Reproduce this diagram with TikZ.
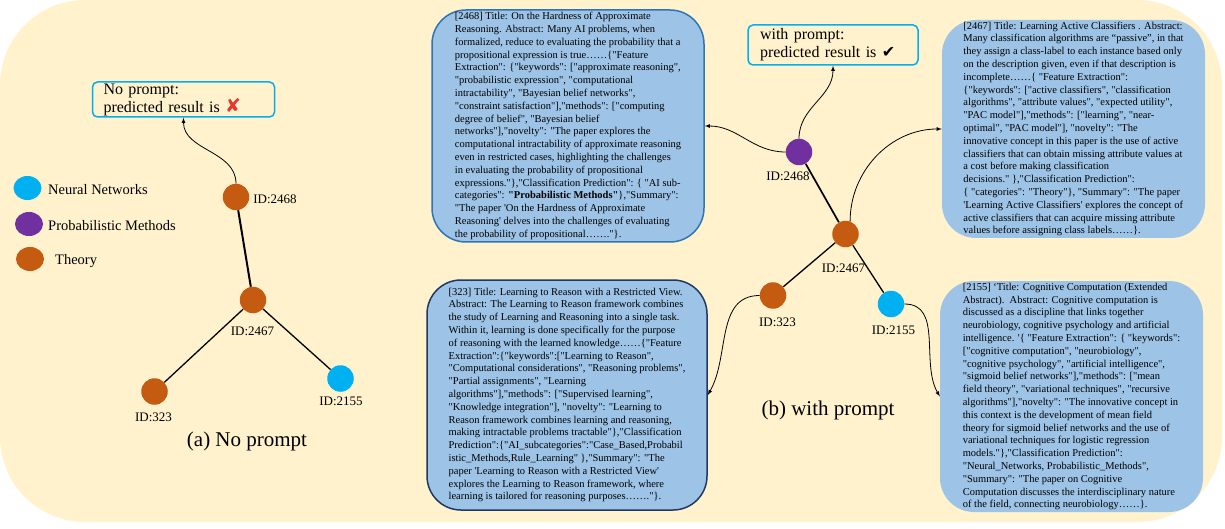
\documentclass[tikz,border=0pt]{standalone}
\usepackage{fontspec}
\setmainfont{Liberation Serif}[Ligatures=TeXOff]
\newfontfamily\symbolfont{DejaVu Sans}
\usetikzlibrary{shapes.geometric}
\tikzset{>=latex}
\definecolor{panelbg}{HTML}{FFF2CC}
\definecolor{boxfill}{HTML}{9DC3E6}
\definecolor{boxblue}{HTML}{2E75B6}
\definecolor{boxnavy}{HTML}{203864}
\definecolor{promptcyan}{HTML}{00B0F0}
\definecolor{theoryorange}{HTML}{C55A11}
\definecolor{neuralcyan}{HTML}{00B0F0}
\definecolor{probpurple}{HTML}{7030A0}
\definecolor{crossred}{HTML}{E8382B}
\tikzset{
  paper/.style={circle, minimum size=26.5pt, inner sep=0pt},
  legenddot/.style={ellipse, minimum width=28pt, minimum height=24pt, inner sep=0pt},
  idlabel/.style={inner sep=0pt, font=\fontsize{13}{15}\selectfont},
  legendtext/.style={anchor=west, inner sep=0pt, font=\fontsize{14.5}{17}\selectfont},
  abstractbox/.style={fill=boxfill, rounded corners=34pt, align=left, inner sep=0pt, font=\fontsize{10.5}{12.8}\selectfont},
  promptbox/.style={draw=promptcyan, line width=1.5pt, rounded corners=5pt, align=left, inner ysep=0pt, font=\fontsize{16}{18}\selectfont},
  caption/.style={inner sep=0pt, font=\fontsize{21}{24}\selectfont},
  link/.style={->, line width=0.8pt},
}
\begin{document}
\begin{tikzpicture}[x=1pt, y=-1pt]
\useasboundingbox (0,0) rectangle (1225,529);
\fill[panelbg, rounded corners=85pt] (0,0) rectangle (1222,522);

\node[legenddot, fill=neuralcyan] (lgneural) at (27.5,188) {};
\node[legenddot, fill=probpurple] (lgprob) at (29,224) {};
\node[legenddot, fill=theoryorange] (lgtheory) at (30,259) {};
\node[legendtext] (lgneuraltext) at (48,190) {Neural Networks};
\node[legendtext] (lgprobtext) at (48,226) {Probabilistic Methods};
\node[legendtext] (lgtheorytext) at (55,261) {Theory};

\node[promptbox, text width=160pt, inner xsep=11pt, minimum height=35pt] (nobox) at (183.5,99.5) {No prompt:\\predicted result is {\symbolfont\fontsize{19}{18}\selectfont\textcolor{crossred}{✘}}};
\node[paper, fill=theoryorange] (l2468) at (236,197) {};
\node[paper, fill=theoryorange] (l2467) at (253,300) {};
\node[paper, fill=theoryorange] (l323) at (154.5,391.5) {};
\node[paper, fill=neuralcyan] (l2155) at (340.5,378.5) {};
\node[idlabel] (tl2468) at (275,199) {ID:2468};
\node[idlabel] (tl2467) at (252.5,331) {ID:2467};
\node[idlabel] (tl323) at (153.5,417) {ID:323};
\node[idlabel] (tl2155) at (341,401) {ID:2155};
\draw[line width=2pt] (l2468) -- (l2467);
\draw[line width=1.3pt] (l2467) -- (l323);
\draw[line width=1.3pt] (l2467) -- (l2155);
\draw[link] (l2468.north) to[out=90, in=-90] (nobox.south);
\node[caption] (capa) at (247,441) {(a) No prompt};

\node[abstractbox, draw=boxblue, line width=1.5pt, minimum width=272pt, minimum height=232pt] (b2468) at (568,126) {[2468] Title: On the Hardness of Approximate\\
Reasoning. Abstract: Many AI problems, when\\
formalized, reduce to evaluating the probability that a\\
propositional expression is true……\{"Feature\\
Extraction": \{"keywords": ["approximate reasoning",\\
"probabilistic expression", "computational\\
intractability", "Bayesian belief networks",\\
"constraint satisfaction"],"methods": ["computing\\
degree of belief", "Bayesian belief\\
networks"],"novelty": "The paper explores the\\
computational intractability of approximate reasoning\\
even in restricted cases, highlighting the challenges\\
in evaluating the probability of propositional\\
expressions."\},"Classification Prediction": \{ "AI sub-\\
categories": \textbf{"Probabilistic Methods"}\},"Summary":\\
"The paper 'On the Hardness of Approximate\\
Reasoning' delves into the challenges of evaluating\\
the probability of propositional……."\}.};

\node[abstractbox, minimum width=263pt, minimum height=218pt] (b2467) at (1073.5,129) {[2467] Title: Learning Active Classifiers . Abstract:\\
Many classification algorithms are “passive”, in that\\
they assign a class-label to each instance based only\\
on the description given, even if that description is\\
incomplete……\{ "Feature Extraction":\\
\{"keywords": ["active classifiers", "classification\\
algorithms", "attribute values", "expected utility",\\
"PAC model"],"methods": ["learning", "near-\\
optimal", "PAC model"], "novelty": "The\\
innovative concept in this paper is the use of active\\
classifiers that can obtain missing attribute values at\\
a cost before making classification\\
decisions." \},"Classification Prediction":\\
\{ "categories": "Theory"\}, "Summary": "The paper\\
'Learning Active Classifiers' explores the concept of\\
active classifiers that can acquire missing attribute\\
values before assigning class labels……\}.};

\node[abstractbox, draw=boxnavy, line width=1.5pt, minimum width=280pt, minimum height=230pt] (b323) at (567,395) {[323] Title: Learning to Reason with a Restricted View.\\
Abstract: The Learning to Reason framework combines\\
the study of Learning and Reasoning into a single task.\\
Within it, learning is done specifically for the purpose\\
of reasoning with the learned knowledge……\{"Feature\\
Extraction":\{"keywords":["Learning to Reason",\\
"Computational considerations", "Reasoning problems",\\
"Partial assignments", "Learning\\
algorithms"],"methods": ["Supervised learning",\\
"Knowledge integration"], "novelty": "Learning to\\
Reason framework combines learning and reasoning,\\
making intractable problems tractable"\},"Classification\\
Prediction":\{"AI\_subcategories":"Case\_Based,Probabil\\
istic\_Methods,Rule\_Learning" \},"Summary": "The\\
paper 'Learning to Reason with a Restricted View'\\
explores the Learning to Reason framework, where\\
learning is tailored for reasoning purposes……."\}.};

\node[abstractbox, minimum width=263pt, minimum height=231pt] (b2155) at (1071.5,396.5) {[2155] ‘Title: Cognitive Computation (Extended\\
Abstract).\ \ Abstract: Cognitive computation is\\
discussed as a discipline that links together\\
neurobiology, cognitive psychology and artificial\\
intelligence. '\{ "Feature Extraction": \{ "keywords":\\
{}["cognitive computation", "neurobiology",\\
"cognitive psychology", "artificial intelligence",\\
"sigmoid belief networks"],"methods": ["mean\\
field theory", "variational techniques", "recursive\\
algorithms"],"novelty": "The innovative concept in\\
this context is the development of mean field\\
theory for sigmoid belief networks and the use of\\
variational techniques for logistic regression\\
models."\},"Classification Prediction":\\
"Neural\_Networks, Probabilistic\_Methods",\\
"Summary": "The paper on Cognitive\\
Computation discusses the interdisciplinary nature\\
of the field, connecting neurobiology……\}.};

\node[promptbox, text width=146pt, inner xsep=12pt, minimum height=40pt] (wbox) at (833,45) {with prompt:\\predicted result is {\symbolfont ✔}};
\node[paper, fill=probpurple] (r2468) at (799,152) {};
\node[paper, fill=theoryorange] (r2467) at (845.5,234) {};
\node[paper, fill=theoryorange] (r323) at (773,295.5) {};
\node[paper, fill=neuralcyan] (r2155) at (891,304) {};
\node[idlabel] (tr2468) at (788,176) {ID:2468};
\node[idlabel] (tr2467) at (843.5,268) {ID:2467};
\node[idlabel] (tr323) at (777.5,322) {ID:323};
\node[idlabel] (tr2155) at (893.5,330) {ID:2155};
\draw[line width=1.7pt] (r2468) -- (r2467);
\draw[line width=1.3pt] (r2467) -- (r323);
\draw[line width=1.3pt] (r2467) -- (r2155);
\draw[link] (r2468.north) to[out=90, in=-90] (wbox.south);
\draw[link] (r2468.west) to[out=180, in=0] (b2468.east);
\draw[link] (r2467.70) to[out=90, in=180] (b2467.west);
\draw[link] (r323.west) to[out=180, in=60] (b323.east);
\draw[link] (r2155.east) to[out=0, in=120] (b2155.west);
\node[caption] (capb) at (828,410) {(b) with prompt};
\end{tikzpicture}
\end{document}
